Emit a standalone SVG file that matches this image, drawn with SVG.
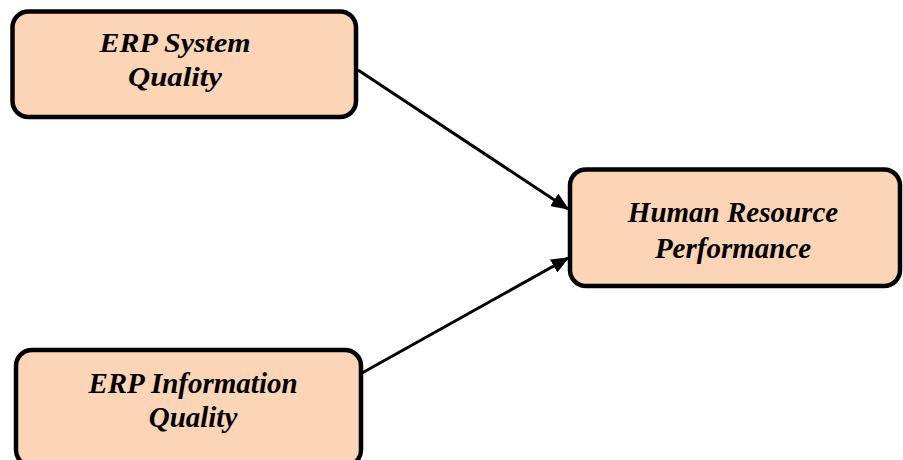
<svg xmlns="http://www.w3.org/2000/svg" width="903" height="460" viewBox="0 0 903 460">
<style>
.box{fill:#FBD5B5;stroke:#000;stroke-width:4.5}
.t{font-family:"Liberation Serif","Times New Roman",serif;font-weight:bold;font-style:italic;font-size:29px;fill:#000;text-anchor:middle}
.t1{font-size:28px}
.c{stroke:#000;stroke-width:3;fill:none;marker-end:url(#ah)}
</style>
<defs>
<marker id="ah" markerWidth="6" markerHeight="5" refX="5.5" refY="2.5" orient="auto" markerUnits="strokeWidth">
<path d="M0,0 L6,2.5 L0,5 Z" fill="#000"/>
</marker>
</defs>
<rect width="903" height="460" fill="#fff"/>
<g id="connectors">
<line class="c" x1="358" y1="70" x2="568" y2="209"/>
<line class="c" x1="362" y1="373" x2="568" y2="258"/>
</g>
<g id="n1">
<rect class="box" x="12.5" y="11.5" width="343.5" height="105.5" rx="16"/>
<text class="t t1" x="175" y="52" textLength="151" lengthAdjust="spacingAndGlyphs">ERP System</text>
<text class="t t1" x="175" y="86" textLength="94" lengthAdjust="spacingAndGlyphs">Quality</text>
</g>
<g id="n2">
<rect class="box" x="570" y="169.5" width="330" height="116.5" rx="16"/>
<text class="t" x="733" y="222">Human Resource</text>
<text class="t" x="733" y="258">Performance</text>
</g>
<g id="n3">
<rect class="box" x="16" y="350" width="345" height="116" rx="16"/>
<text class="t" x="193" y="393">ERP Information</text>
<text class="t" x="193" y="427">Quality</text>
</g>
</svg>
